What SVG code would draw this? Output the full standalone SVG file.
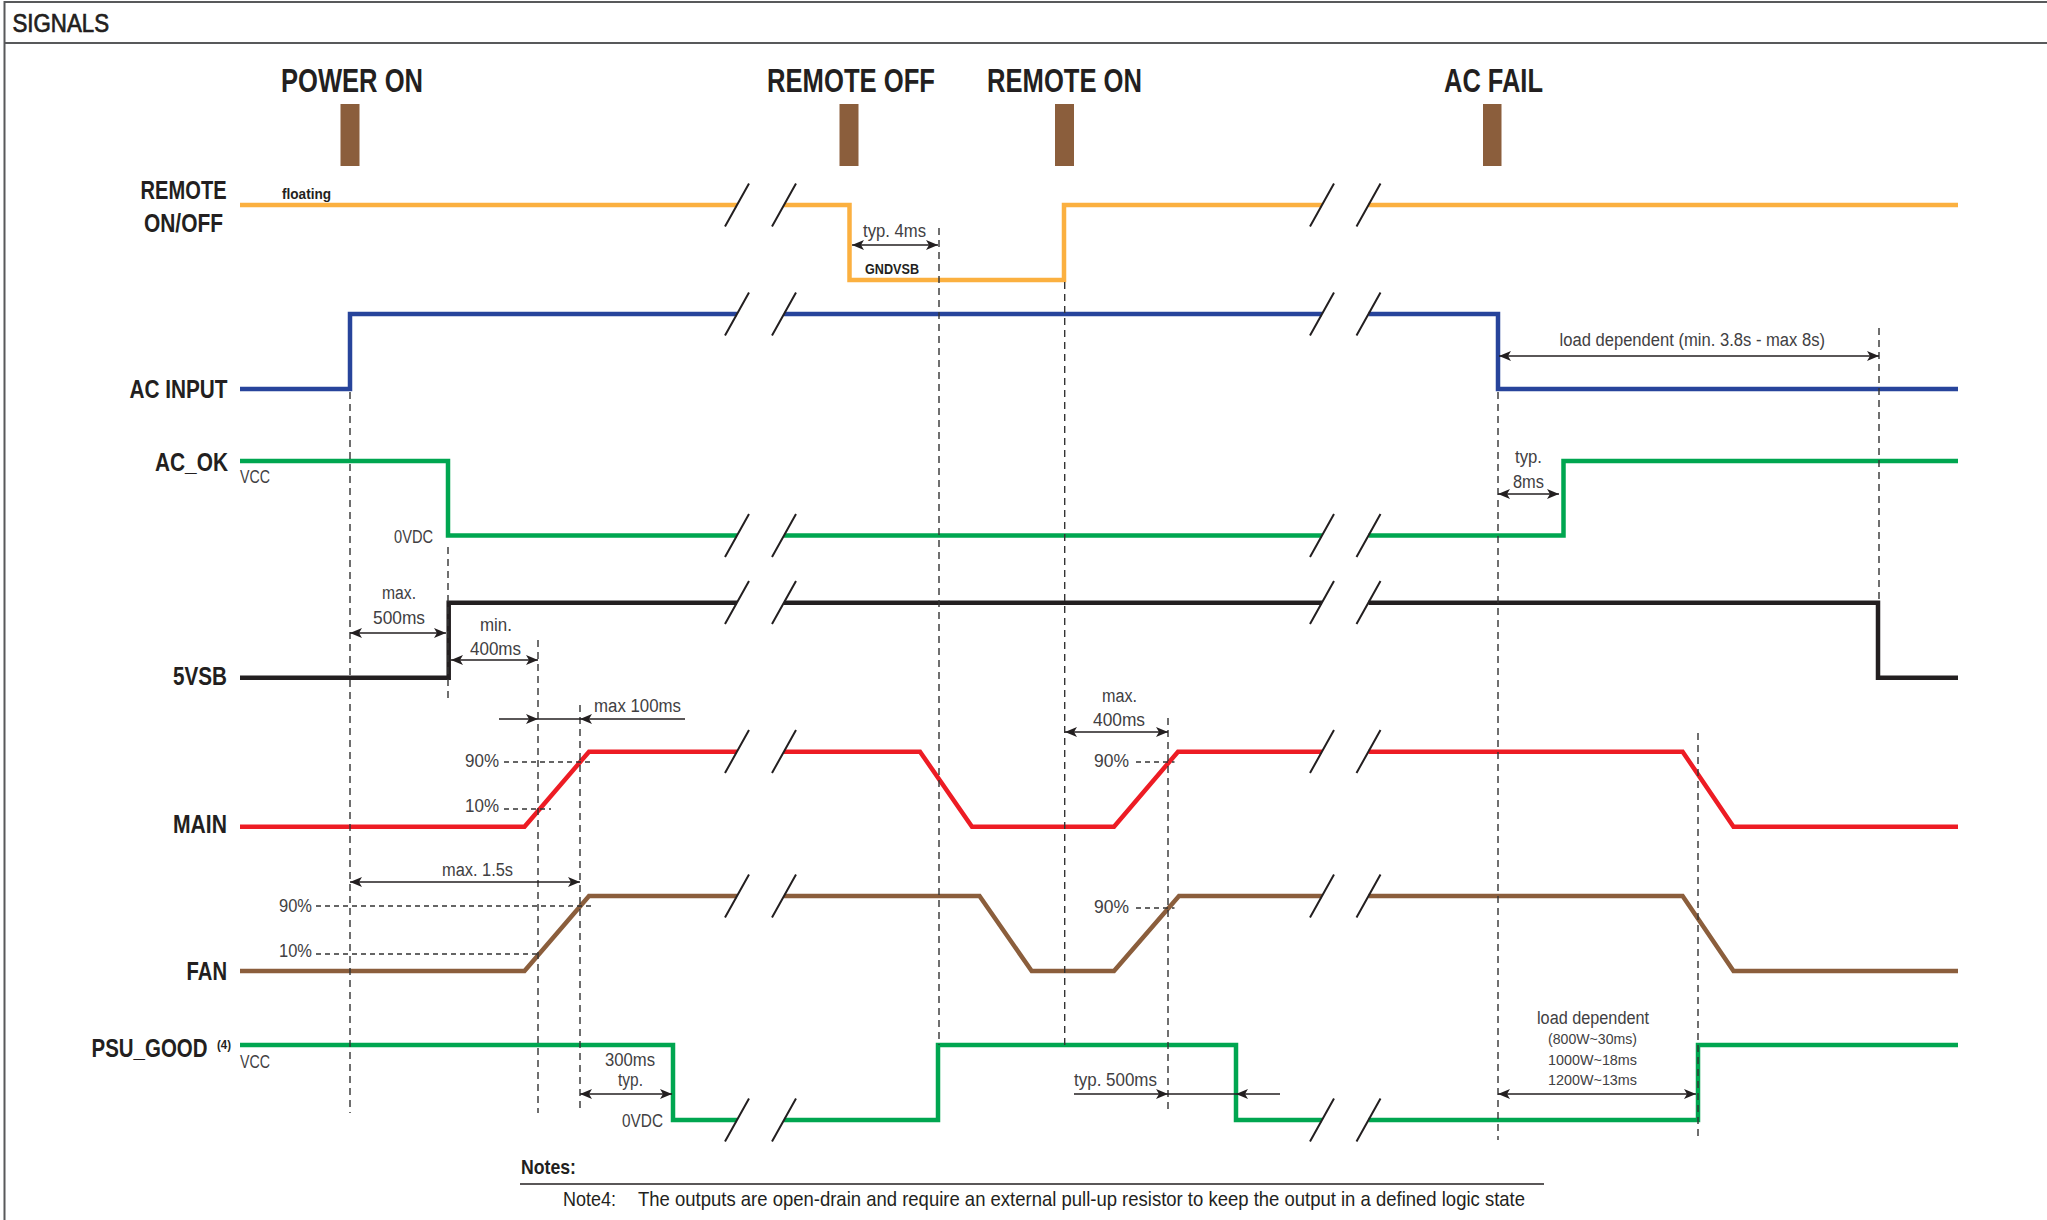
<svg xmlns="http://www.w3.org/2000/svg" width="2047" height="1220" viewBox="0 0 2047 1220">
<defs>
<style>
text{font-family:"Liberation Sans Narrow","Liberation Sans",Arial,sans-serif;fill:#231f20}
.ev{font-size:33px;font-weight:bold}
.sig{font-size:25px;font-weight:bold}
.ann{font-size:18px;fill:#414042}
.sm{font-size:14px;font-weight:bold}
.ld{font-size:14px;fill:#414042}
.w{fill:none;stroke-width:4.5;stroke-linejoin:miter;stroke-linecap:butt}
.br{stroke:#231f20;stroke-width:2;fill:none}
.dash{stroke:#333;stroke-width:1.4;stroke-dasharray:7 5;fill:none}
.dot{stroke:#333;stroke-width:1.4;stroke-dasharray:5 4;fill:none}
.arr{stroke:#231f20;stroke-width:1.3;fill:none}
.bar{fill:#8b5e3c}
</style>
<marker id="ah" viewBox="0 0 12 10" refX="12" refY="5" markerWidth="12" markerHeight="10" markerUnits="userSpaceOnUse" orient="auto-start-reverse">
<path d="M0,0 L12,5 L0,10 L3,5 Z" fill="#231f20"/>
</marker>
</defs>
<rect width="2047" height="1220" fill="#fff"/>
<g id="frame">
<rect x="4.5" y="2" width="2100" height="1260" fill="none" stroke="#58595b" stroke-width="2"/>
<line x1="4.5" y1="43" x2="2047" y2="43" stroke="#58595b" stroke-width="2"/>
<text x="12.5" y="32" font-size="25" stroke="#231f20" stroke-width="0.7" textLength="96.5" lengthAdjust="spacingAndGlyphs">SIGNALS</text>
</g>
<g id="events">
<text class="ev" x="281" y="92" textLength="142" lengthAdjust="spacingAndGlyphs">POWER ON</text>
<rect class="bar" x="340.5" y="104" width="19" height="62"/>
<text class="ev" x="767" y="92" textLength="168" lengthAdjust="spacingAndGlyphs">REMOTE OFF</text>
<rect class="bar" x="839.5" y="104" width="19" height="62"/>
<text class="ev" x="987" y="92" textLength="155" lengthAdjust="spacingAndGlyphs">REMOTE ON</text>
<rect class="bar" x="1055" y="104" width="19" height="62"/>
<text class="ev" x="1444" y="92" textLength="99" lengthAdjust="spacingAndGlyphs">AC FAIL</text>
<rect class="bar" x="1483" y="104" width="18.5" height="62"/>
</g>
<g id="labels">
<text class="sig" x="140.6" y="199" textLength="86" lengthAdjust="spacingAndGlyphs">REMOTE</text>
<text class="sig" x="144" y="232" textLength="79" lengthAdjust="spacingAndGlyphs">ON/OFF</text>
<text class="sig" x="129.5" y="398" textLength="98" lengthAdjust="spacingAndGlyphs">AC INPUT</text>
<text class="sig" x="155" y="471" textLength="73" lengthAdjust="spacingAndGlyphs">AC_OK</text>
<text class="sig" x="173" y="685" textLength="54" lengthAdjust="spacingAndGlyphs">5VSB</text>
<text class="sig" x="173" y="833" textLength="54" lengthAdjust="spacingAndGlyphs">MAIN</text>
<text class="sig" x="186.6" y="980" textLength="40.5" lengthAdjust="spacingAndGlyphs">FAN</text>
<text class="sig" transform="translate(91.5,1057) scale(0.8,1)" x="0" y="0" textLength="145" lengthAdjust="spacingAndGlyphs">PSU_GOOD</text>
<text transform="translate(217,1049) scale(0.8,1)" x="0" y="0" font-size="13" font-weight="bold" textLength="17.5" lengthAdjust="spacingAndGlyphs">(4)</text>
</g>
<g id="waveforms">
<path class="w" stroke="#fbb040" d="M240,205 H737 M784,205 H849.5 V280 H1064 V205 H1322 M1368.5,205 H1958"/>
<path class="w" stroke="#27449b" d="M240,389 H350 V314 H737 M784,314 H1322 M1368.5,314 H1498 V389 H1958"/>
<path class="w" stroke="#00a650" d="M240,461 H448 V535.6 H737 M784,535.6 H1322 M1368.5,535.6 H1563.5 V461 H1958"/>
<path class="w" stroke="#231f20" d="M240,677.7 H448.7 V602.7 H737 M784,602.7 H1322 M1368.5,602.7 H1878 V677.7 H1958"/>
<path class="w" stroke="#ed1c24" d="M240,826.7 H524.5 L589,751.7 H737 M784,751.7 H920 L972,826.7 H1114 L1178,751.7 H1322 M1368.5,751.7 H1682.6 L1733.5,826.7 H1958"/>
<path class="w" stroke="#8b5e3c" d="M240,971 H524.5 L589,896 H737 M784,896 H979.5 L1031.7,971 H1114 L1179,896 H1322 M1368.5,896 H1682.6 L1733.5,971 H1958"/>
<path class="w" stroke="#00a650" d="M240,1045 H673 V1120 H737 M784,1120 H938 V1045 H1236 V1120 H1322 M1368.5,1120 H1698 V1045 H1958"/>
</g>
<g id="breaks">
<path class="br" d="M749,183.5 L725,226.5 M796,183.5 L772,226.5 M1334,183.5 L1310,226.5 M1380.5,183.5 L1356.5,226.5"/>
<path class="br" d="M749,292.5 L725,335.5 M796,292.5 L772,335.5 M1334,292.5 L1310,335.5 M1380.5,292.5 L1356.5,335.5"/>
<path class="br" d="M749,514 L725,557 M796,514 L772,557 M1334,514 L1310,557 M1380.5,514 L1356.5,557"/>
<path class="br" d="M749,581 L725,624 M796,581 L772,624 M1334,581 L1310,624 M1380.5,581 L1356.5,624"/>
<path class="br" d="M749,730 L725,773 M796,730 L772,773 M1334,730 L1310,773 M1380.5,730 L1356.5,773"/>
<path class="br" d="M749,874.5 L725,917.5 M796,874.5 L772,917.5 M1334,874.5 L1310,917.5 M1380.5,874.5 L1356.5,917.5"/>
<path class="br" d="M749,1098.5 L725,1141.5 M796,1098.5 L772,1141.5 M1334,1098.5 L1310,1141.5 M1380.5,1098.5 L1356.5,1141.5"/>
</g>
<g id="connectors">
<path class="dash" d="M350,392 V1113 M448,547 V702 M538,640 V1113 M580,705 V1113 M939,228 V1045 M1064.7,282 V1045 M1168,718 V1112 M1498,392 V1140 M1698,733 V1140 M1879,328 V600"/>
<path class="dot" d="M504,762 H594 M504,809 H551 M316,906 H594 M316,954 H538 M1136,762 H1174.5 M1136,908 H1174.5"/>
<path class="arr" marker-start="url(#ah)" marker-end="url(#ah)" d="M852,245 H938"/>
<path class="arr" marker-start="url(#ah)" marker-end="url(#ah)" d="M350,633 H446"/>
<path class="arr" marker-start="url(#ah)" marker-end="url(#ah)" d="M451,660 H538"/>
<path class="arr" marker-end="url(#ah)" d="M499,719 H538"/>
<path class="arr" d="M538,719 H580"/>
<path class="arr" marker-end="url(#ah)" d="M685,719 H580"/>
<path class="arr" marker-start="url(#ah)" marker-end="url(#ah)" d="M350,882 H580"/>
<path class="arr" marker-start="url(#ah)" marker-end="url(#ah)" d="M580,1094 H672"/>
<path class="arr" marker-start="url(#ah)" marker-end="url(#ah)" d="M1065,732 H1168"/>
<path class="arr" marker-end="url(#ah)" d="M1074,1094 H1168"/>
<path class="arr" d="M1168,1094 H1236"/>
<path class="arr" marker-end="url(#ah)" d="M1280,1094 H1236"/>
<path class="arr" marker-start="url(#ah)" marker-end="url(#ah)" d="M1499,356 H1879"/>
<path class="arr" marker-start="url(#ah)" marker-end="url(#ah)" d="M1498,494 H1559"/>
<path class="arr" marker-start="url(#ah)" marker-end="url(#ah)" d="M1498,1094 H1696"/>
</g>
<g id="annotations">
<text class="sm" x="282" y="199" textLength="49" lengthAdjust="spacingAndGlyphs">floating</text>
<text class="ann" x="863" y="237" textLength="63" lengthAdjust="spacingAndGlyphs">typ. 4ms</text>
<text class="sm" x="865" y="274" textLength="54" lengthAdjust="spacingAndGlyphs">GNDVSB</text>
<text class="ann" x="240" y="483" textLength="30" lengthAdjust="spacingAndGlyphs">VCC</text>
<text class="ann" x="394" y="543" textLength="39" lengthAdjust="spacingAndGlyphs">0VDC</text>
<text class="ann" x="382" y="599" textLength="34" lengthAdjust="spacingAndGlyphs">max.</text>
<text class="ann" x="373" y="624" textLength="52" lengthAdjust="spacingAndGlyphs">500ms</text>
<text class="ann" x="480" y="631" textLength="32" lengthAdjust="spacingAndGlyphs">min.</text>
<text class="ann" x="470" y="655" textLength="51" lengthAdjust="spacingAndGlyphs">400ms</text>
<text class="ann" x="594" y="712" textLength="87" lengthAdjust="spacingAndGlyphs">max 100ms</text>
<text class="ann" x="465" y="767" textLength="34" lengthAdjust="spacingAndGlyphs">90%</text>
<text class="ann" x="465" y="812" textLength="34" lengthAdjust="spacingAndGlyphs">10%</text>
<text class="ann" x="442" y="876" textLength="71" lengthAdjust="spacingAndGlyphs">max. 1.5s</text>
<text class="ann" x="279" y="912" textLength="33" lengthAdjust="spacingAndGlyphs">90%</text>
<text class="ann" x="279" y="957" textLength="33" lengthAdjust="spacingAndGlyphs">10%</text>
<text class="ann" x="240" y="1068" textLength="30" lengthAdjust="spacingAndGlyphs">VCC</text>
<text class="ann" x="605" y="1066" textLength="50" lengthAdjust="spacingAndGlyphs">300ms</text>
<text class="ann" x="618" y="1086" textLength="25" lengthAdjust="spacingAndGlyphs">typ.</text>
<text class="ann" x="622" y="1127" textLength="41" lengthAdjust="spacingAndGlyphs">0VDC</text>
<text class="ann" x="1102" y="702" textLength="35" lengthAdjust="spacingAndGlyphs">max.</text>
<text class="ann" x="1093" y="726" textLength="52" lengthAdjust="spacingAndGlyphs">400ms</text>
<text class="ann" x="1094" y="767" textLength="35" lengthAdjust="spacingAndGlyphs">90%</text>
<text class="ann" x="1094" y="913" textLength="35" lengthAdjust="spacingAndGlyphs">90%</text>
<text class="ann" x="1074" y="1086" textLength="83" lengthAdjust="spacingAndGlyphs">typ. 500ms</text>
<text class="ann" x="1559.5" y="346" textLength="265.5" lengthAdjust="spacingAndGlyphs">load dependent (min. 3.8s - max 8s)</text>
<text class="ann" x="1515" y="463" textLength="27" lengthAdjust="spacingAndGlyphs">typ.</text>
<text class="ann" x="1513" y="488" textLength="31" lengthAdjust="spacingAndGlyphs">8ms</text>
<text class="ann" x="1537" y="1024" textLength="112" lengthAdjust="spacingAndGlyphs">load dependent</text>
<text class="ld" x="1548" y="1044" textLength="89" lengthAdjust="spacingAndGlyphs">(800W~30ms)</text>
<text class="ld" x="1548" y="1065" textLength="89" lengthAdjust="spacingAndGlyphs">1000W~18ms</text>
<text class="ld" x="1548" y="1085" textLength="89" lengthAdjust="spacingAndGlyphs">1200W~13ms</text>
</g>
<g id="notes">
<text x="521" y="1174" font-size="21" font-weight="bold" textLength="55" lengthAdjust="spacingAndGlyphs">Notes:</text>
<line x1="520" y1="1184" x2="1544" y2="1184" stroke="#231f20" stroke-width="1.3"/>
<text x="563" y="1206" font-size="21" fill="#414042" textLength="53" lengthAdjust="spacingAndGlyphs">Note4:</text>
<text x="638" y="1206" font-size="21" fill="#414042" textLength="887" lengthAdjust="spacingAndGlyphs">The outputs are open-drain and require an external pull-up resistor to keep the output in a defined logic state</text>
</g>
</svg>
